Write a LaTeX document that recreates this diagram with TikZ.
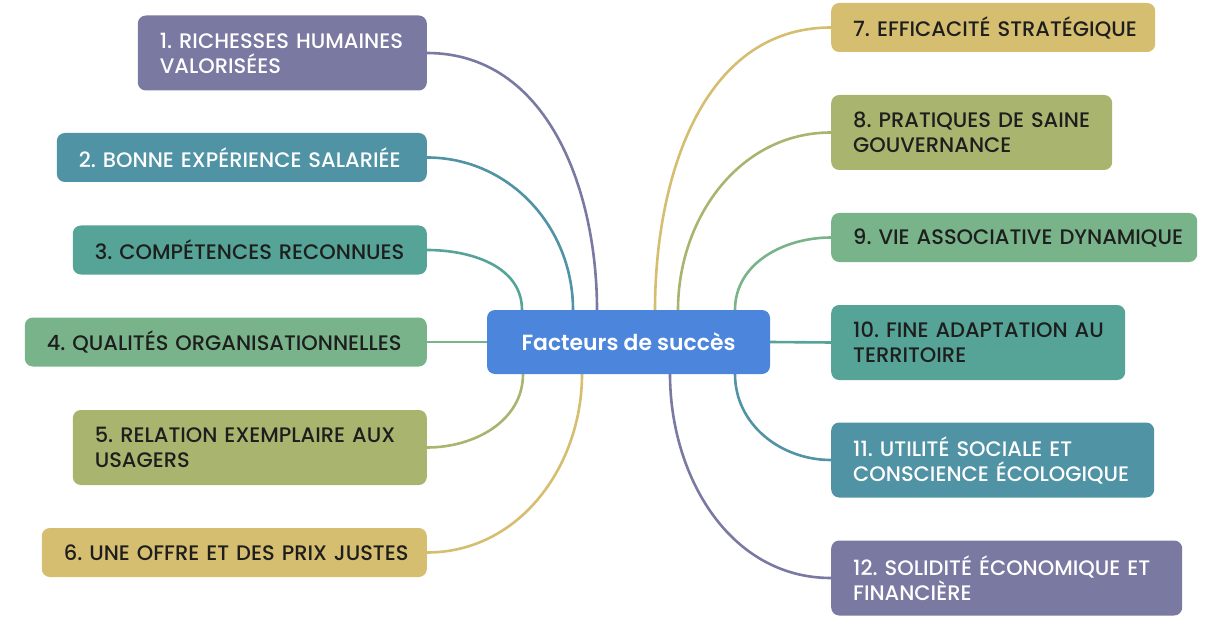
\documentclass[tikz,border=0pt]{standalone}
\usepackage{fontspec}
\setmainfont{Poppins Medium}
\newfontfamily\semib{Poppins SemiBold}
\frenchspacing
\pgfdeclarelayer{bg}
\pgfsetlayers{bg,main}
\definecolor{cpurple}{HTML}{7A79A2}
\definecolor{cblue}{HTML}{4F93A5}
\definecolor{cteal}{HTML}{55A497}
\definecolor{cgreen}{HTML}{78B38A}
\definecolor{colive}{HTML}{A9B46E}
\definecolor{cgold}{HTML}{D5BE6F}
\definecolor{ccenter}{HTML}{4B86DC}
\definecolor{dark}{HTML}{1E1E1E}
\newcommand{\boxline}[1]{\mbox{#1}}
\tikzset{
  box/.style={rounded corners=8pt, inner xsep=22pt, inner ysep=0pt, align=left,
    font=\fontsize{21}{25}\selectfont},
  one/.style={minimum height=49pt},
  two/.style={minimum height=75pt},
  conn/.style={line width=2.6pt},
}
\begin{document}
\begin{tikzpicture}[x=1pt,y=1pt]
\useasboundingbox (0,0) rectangle (1218,625);
% left
\node[box,two,fill=cpurple,text=white,anchor=east,text width=245pt] (n1) at (427,572) {\boxline{1. RICHESSES HUMAINES}\\\boxline{VALORISÉES}};
\node[box,one,fill=cblue,text=white,anchor=east,text width=326pt] (n2) at (427,467.5) {\boxline{2. BONNE EXPÉRIENCE SALARIÉE}};
\node[box,one,fill=cteal,text=dark,anchor=east,text width=310pt] (n3) at (427,375) {\boxline{3. COMPÉTENCES RECONNUES}};
\node[box,one,fill=cgreen,text=dark,anchor=east,text width=358pt] (n4) at (427,283) {\boxline{4. QUALITÉS ORGANISATIONNELLES}};
\node[box,two,fill=colive,text=dark,anchor=east,text width=310pt] (n5) at (427,177.5) {\boxline{5. RELATION EXEMPLAIRE AUX}\\\boxline{USAGERS}};
\node[box,one,fill=cgold,text=dark,anchor=east,text width=341pt] (n6) at (427,72.5) {\boxline{6. UNE OFFRE ET DES PRIX JUSTES}};
% center
\node[rounded corners=8pt, fill=ccenter, text=white, minimum width=283pt, minimum height=64pt,
  font=\semib\fontsize{21.9}{25}\selectfont] (c) at (628.5,283) {Facteurs de succès};
% right
\node[box,one,fill=cgold,text=dark,anchor=west,text width=280pt] (n7) at (831,597.5) {\boxline{7. EFFICACITÉ STRATÉGIQUE}};
\node[box,two,fill=colive,text=dark,anchor=west,text width=237pt] (n8) at (831,492.5) {\boxline{8. PRATIQUES DE SAINE}\\\boxline{GOUVERNANCE}};
\node[box,one,fill=cgreen,text=dark,anchor=west,text width=322pt] (n9) at (831,387.5) {\boxline{9. VIE ASSOCIATIVE DYNAMIQUE}};
\node[box,two,fill=cteal,text=dark,anchor=west,text width=250pt] (n10) at (831,282.5) {\boxline{10. FINE ADAPTATION AU}\\\boxline{TERRITOIRE}};
\node[box,two,fill=cblue,text=white,anchor=west,text width=279pt] (n11) at (831,165) {\boxline{11. UTILITÉ SOCIALE ET}\\\boxline{CONSCIENCE ÉCOLOGIQUE}};
\node[box,two,fill=cpurple,text=white,anchor=west,text width=307pt] (n12) at (831,47) {\boxline{12. SOLIDITÉ ÉCONOMIQUE ET}\\\boxline{FINANCIÈRE}};
% attachment points on the centre box
\coordinate (t1) at (597,315);
\coordinate (t2) at (573,315);
\coordinate (t3) at (522,315);
\coordinate (b5) at (523,251);
\coordinate (b6) at (582,251);
\coordinate (t7) at (655,315);
\coordinate (t8) at (678,315);
\coordinate (t9) at (735,315);
\coordinate (b11) at (735,251);
\coordinate (b12) at (670,251);
\begin{pgfonlayer}{bg}
\draw[conn,cpurple] (n1.east) to[out=0,in=90] (t1);
\draw[conn,cblue] (n2.east) to[out=0,in=90] (t2);
\draw[conn,cteal] (n3.east) to[out=0,in=90] (t3);
\draw[conn,cgreen] (n4.east) -- (c.west);
\draw[conn,colive] (n5.east) to[out=0,in=-90] (b5);
\draw[conn,cgold] (n6.east) to[out=0,in=-90] (b6);
\draw[conn,cgold] (n7.west) to[out=180,in=90] (t7);
\draw[conn,colive] (n8.west) to[out=180,in=90] (t8);
\draw[conn,cgreen] (n9.west) to[out=180,in=90] (t9);
\draw[conn,cteal] (n10.west) -- (c.east);
\draw[conn,cblue] (n11.west) to[out=180,in=-90] (b11);
\draw[conn,cpurple] (n12.west) to[out=180,in=-90] (b12);
\end{pgfonlayer}
\end{tikzpicture}
\end{document}
